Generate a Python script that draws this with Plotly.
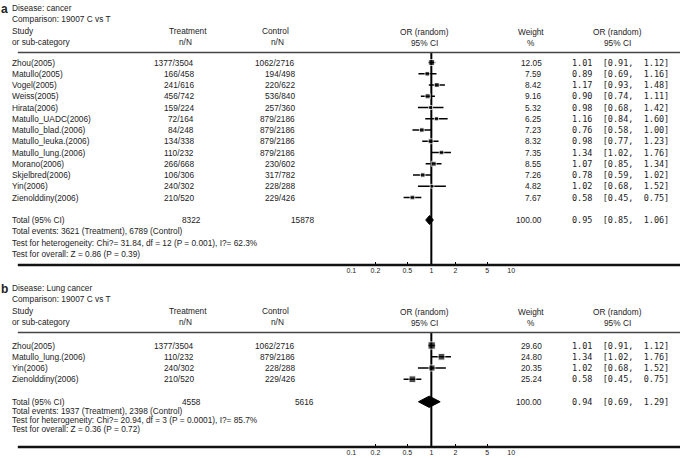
import plotly.graph_objects as go
import numpy as np

# ---------------- data ----------------
studies_a = ["Zhou(2005)", "Matullo(2005)", "Vogel(2005)", "Weiss(2005)", "Hirata(2006)",
             "Matullo_UADC(2006)", "Matullo_blad.(2006)", "Matullo_leuka.(2006)",
             "Matullo_lung.(2006)", "Morano(2006)", "Skjelbred(2006)", "Yin(2006)",
             "Zienolddiny(2006)"]
treat_a = ["1377/3504", "166/458", "241/616", "456/742", "159/224", "72/164", "84/248",
           "134/338", "110/232", "266/668", "106/306", "240/302", "210/520"]
control_a = ["1062/2716", "194/498", "220/622", "536/840", "257/360", "879/2186", "879/2186",
             "879/2186", "879/2186", "230/602", "317/782", "228/288", "229/426"]
weight_a = [12.05, 7.59, 8.42, 9.16, 5.32, 6.25, 7.23, 8.32, 7.35, 8.55, 7.26, 4.82, 7.67]
or_a = [1.01, 0.89, 1.17, 0.90, 0.98, 1.16, 0.76, 0.98, 1.34, 1.07, 0.78, 1.02, 0.58]
lo_a = [0.91, 0.69, 0.93, 0.74, 0.68, 0.84, 0.58, 0.77, 1.02, 0.85, 0.59, 0.68, 0.45]
hi_a = [1.12, 1.16, 1.48, 1.11, 1.42, 1.60, 1.00, 1.23, 1.76, 1.34, 1.02, 1.52, 0.75]
total_a = {"treat": "8322", "control": "15878", "weight": 100.00, "or": 0.95, "lo": 0.85, "hi": 1.06}
stats_a = ["Total events: 3621 (Treatment), 6789 (Control)",
           "Test for heterogeneity: Chi?= 31.84, df = 12 (P = 0.001), I?= 62.3%",
           "Test for overall: Z = 0.86 (P = 0.39)"]

studies_b = ["Zhou(2005)", "Matullo_lung.(2006)", "Yin(2006)", "Zienolddiny(2006)"]
treat_b = ["1377/3504", "110/232", "240/302", "210/520"]
control_b = ["1062/2716", "879/2186", "228/288", "229/426"]
weight_b = [29.60, 24.80, 20.35, 25.24]
or_b = [1.01, 1.34, 1.02, 0.58]
lo_b = [0.91, 1.02, 0.68, 0.45]
hi_b = [1.12, 1.76, 1.52, 0.75]
total_b = {"treat": "4558", "control": "5616", "weight": 100.00, "or": 0.94, "lo": 0.69, "hi": 1.29}
stats_b = ["Total events: 1937 (Treatment), 2398 (Control)",
           "Test for heterogeneity: Chi?= 20.94, df = 3 (P = 0.0001), I?= 85.7%",
           "Test for overall: Z = 0.36 (P = 0.72)"]

tick_vals = [0.1, 0.2, 0.5, 1, 2, 5, 10]
tick_text = ["0.1", "0.2", "0.5", "1", "2", "5", "10"]

# ---------------- layout helpers ----------------
W, H = 685, 458
FONT = "Arial, Liberation Sans, sans-serif"
MONO = "DejaVu Sans Mono, monospace"
FS = 8.3
MFS = 8.5
TXT = "#222222"
NB = "\u00a0"
XSHIFT = -7


def xp(p):
    return p / W


def yp(p):
    return 1 - p / H


ROW = 11.25
fig = go.Figure()
annotations = []
shapes = []


def ann(x, y, text, anchor="left", yref="paper", size=FS, family=FONT, bold=False):
    if yref == "paper":
        y = yp(y)
    if bold:
        text = "<b>" + text + "</b>"
    annotations.append(dict(x=xp(x), y=y, xref="paper", yref=yref, text=text, showarrow=False,
                            xanchor=anchor, yanchor="middle", xshift=XSHIFT,
                            font=dict(size=size, family=family, color=TXT), borderpad=0))


def or_text(o, l, h):
    return f"{o:.2f}{NB*2}[{l:.2f},{NB*2}{h:.2f}]"


def panel(letter, disease, top, studies, treat, control, weight, ors, los, his, total, stats,
          xa, ya, first_row_px, axis_px, diamond_h, msize_k, stat_rows):
    # header block
    ann(2, top + 1, letter, size=12, bold=True)
    ann(13, top, "Disease: " + disease)
    ann(13, top + 11, "Comparison: 19007 C vs T")
    ann(13, top + 23, "Study")
    ann(13, top + 34, "or sub-category")
    ann(193, top + 23, "Treatment", "center")
    ann(190, top + 34, "n/N", "center")
    ann(281, top + 23, "Control", "center")
    ann(283, top + 34, "n/N", "center")
    ann(432, top + 24, "OR (random)", "center")
    ann(432, top + 35, "95% CI", "center")
    ann(540, top + 24, "Weight", "center")
    ann(540, top + 35, "%", "center")
    ann(628, top + 24, "OR (random)", "center")
    ann(628, top + 35, "95% CI", "center")
    header_line = top + 44.5
    shapes.append(dict(type="line", xref="paper", yref="paper", x0=xp(13), x1=xp(684),
                       y0=yp(header_line), y1=yp(header_line), line=dict(color="#444444", width=1.5)))
    shapes.append(dict(type="line", xref="paper", yref="paper", x0=xp(13), x1=xp(684),
                       y0=yp(axis_px), y1=yp(axis_px), line=dict(color="#111111", width=2.5)))

    n = len(studies)
    rows = list(range(n))
    yref = ya.replace("axis", "")
    for r in rows:
        ann(13, r, studies[r], yref=yref)
        ann(200, r, treat[r], "right", yref=yref)
        ann(302, r, control[r], "right", yref=yref)
        ann(552, r, f"{weight[r]:.2f}", "right", yref=yref)
        ann(581, r, or_text(ors[r], los[r], his[r]), "left", yref=yref, family=MONO, size=MFS)
    tr = n + 1
    ann(13, tr, "Total (95% CI)", yref=yref)
    ann(207, tr, total["treat"], "right", yref=yref)
    ann(321, tr, total["control"], "right", yref=yref)
    ann(552, tr, f"{total['weight']:.2f}", "right", yref=yref)
    ann(581, tr, or_text(total["or"], total["lo"], total["hi"]), "left", yref=yref, family=MONO, size=MFS)
    for i, s in enumerate(stats):
        ann(13, stat_rows[i], s, yref=yref)

    xref = xa.replace("axis", "")
    # vertical line of no effect
    hdr_row = (header_line - first_row_px) / ROW
    ax_row = (axis_px - first_row_px) / ROW
    fig.add_trace(go.Scatter(x=[1, 1], y=[hdr_row, ax_row], mode="lines",
                             line=dict(color="black", width=2), xaxis=xref, yaxis=yref,
                             hoverinfo="skip", showlegend=False))
    # studies
    arr = [h - o for h, o in zip(his, ors)]
    arrm = [o - l for o, l in zip(ors, los)]
    fig.add_trace(go.Scatter(x=ors, y=rows, mode="markers",
                             marker=dict(symbol="square", color="black",
                                         size=[msize_k * np.sqrt(w) for w in weight]),
                             error_x=dict(type="data", symmetric=False, array=arr, arrayminus=arrm,
                                          color="black", thickness=1.3, width=0),
                             xaxis=xref, yaxis=yref, showlegend=False))
    # diamond
    fig.add_trace(go.Scatter(x=[total["lo"], total["or"], total["hi"], total["or"], total["lo"]],
                             y=[tr, tr - diamond_h, tr, tr + diamond_h, tr],
                             mode="lines", fill="toself", fillcolor="black",
                             line=dict(color="black", width=1), xaxis=xref, yaxis=yref,
                             showlegend=False))
    # axes
    top_px = 0 if top < 100 else top - 8
    top_row = (top_px - first_row_px) / ROW
    fig.update_layout(**{
        xa: dict(type="log", range=[-1, 1], domain=[xp(351), xp(513)], anchor=yref,
                 tickvals=tick_vals, ticktext=tick_text, ticks="inside", ticklen=3,
                 tickwidth=1, tickcolor="black", showgrid=False, zeroline=False, showline=False,
                 tickfont=dict(size=7, family=FONT, color=TXT)),
        ya: dict(domain=[yp(axis_px), yp(top_px)], range=[ax_row, top_row], visible=False,
                 showgrid=False, zeroline=False),
    })


panel("a", "cancer", 8, studies_a, treat_a, control_a, weight_a, or_a, lo_a, hi_a, total_a, stats_a,
      "xaxis", "yaxis", first_row_px=62.5, axis_px=265, diamond_h=0.4,
      msize_k=1.7, stat_rows=[15, 16, 17])
panel("b", "Lung cancer", 288, studies_b, treat_b, control_b, weight_b, or_b, lo_b, hi_b, total_b,
      stats_b, "xaxis2", "yaxis2", first_row_px=345.5, axis_px=447, diamond_h=0.5,
      msize_k=1.35, stat_rows=[5.8, 6.6, 7.4])

fig.update_layout(width=W, height=H, autosize=False, margin=dict(l=0, r=0, t=0, b=0),
                  paper_bgcolor="white", plot_bgcolor="rgba(0,0,0,0)",
                  annotations=annotations, shapes=shapes, showlegend=False)

fig.write_html("out.html", config={"displayModeBar": False},
               post_script="document.body.style.margin='0px';"
                           "document.body.style.overflow='hidden';")
